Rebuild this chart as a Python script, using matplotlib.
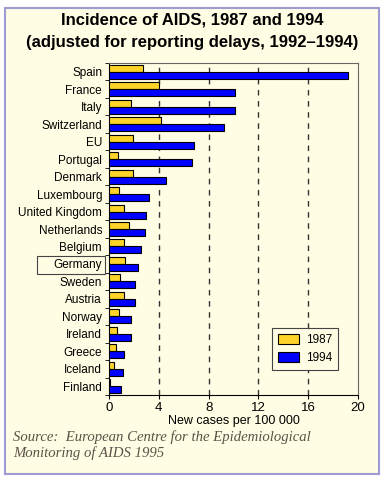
import matplotlib.pyplot as plt
import matplotlib.patches as mpatches
import numpy as np

plt.rcParams['font.family'] = ['Liberation Sans', 'DejaVu Sans']

# 数据
countries = ['Spain', 'France', 'Italy', 'Switzerland', 'EU', 'Portugal', 'Denmark',
             'Luxembourg', 'United Kingdom', 'Netherlands', 'Belgium', 'Germany',
             'Sweden', 'Austria', 'Norway', 'Ireland', 'Greece', 'Iceland', 'Finland']
v1987 = [2.7, 4.0, 1.8, 4.2, 1.9, 0.75, 1.95, 0.8, 1.2, 1.6, 1.2, 1.3, 0.9, 1.2, 0.8, 0.65, 0.6, 0.4, 0.05]
v1994 = [19.2, 10.1, 10.1, 9.2, 6.8, 6.7, 4.6, 3.2, 3.0, 2.9, 2.6, 2.3, 2.1, 2.1, 1.75, 1.75, 1.2, 1.1, 0.95]
xticks = [0, 4, 8, 12, 16, 20]

W, H = 385, 480
fig = plt.figure(figsize=(W / 100, H / 100), dpi=100)
fig.patch.set_facecolor('white')

# 外框背景
fig.patches.append(mpatches.Rectangle((5 / W, 1 - 474 / H), 374 / W, 466 / H,
                                      transform=fig.transFigure, facecolor='#fffde3',
                                      edgecolor='#9c9cd2', linewidth=1.5, zorder=-10))

ax = fig.add_axes([109 / W, 1 - 395 / H, 249 / W, 332 / H])
ax.set_facecolor('#fffde3')

y = np.arange(len(countries))
ax.barh(y - 0.2, v1987, height=0.4, color='#ffd42a', edgecolor='black', linewidth=0.8, label='1987', zorder=3)
ax.barh(y + 0.2, v1994, height=0.4, color='#0000ff', edgecolor='black', linewidth=0.8, label='1994', zorder=3)

ax.set_xlim(0, 20)
ax.set_ylim(len(countries) - 0.5, -0.5)
ax.set_xticks(xticks)
ax.tick_params(axis='x', labelsize=9.5, length=3, pad=2)
ax.set_yticks(y)
ax.set_yticklabels(countries, fontsize=8.5)
ax.tick_params(axis='y', length=0, pad=5)
ax.set_yticks(np.arange(len(countries) + 1) - 0.5, minor=True)
ax.tick_params(axis='y', which='minor', length=3)

for xv in xticks[1:-1]:
    ax.axvline(xv, color='#333333', linestyle=(0, (4, 4)), linewidth=1, zorder=1)

for s in ['top', 'right']:
    ax.spines[s].set_color('#666666')

ax.set_xlabel('New cases per 100 000', fontsize=9, labelpad=1)

# Germany 的框
fig.patches.append(mpatches.Rectangle((37 / W, 1 - 274 / H), 68 / W, 18 / H,
                                      transform=fig.transFigure, facecolor='none',
                                      edgecolor='#444444', linewidth=0.8))

leg = ax.legend(loc='lower right', bbox_to_anchor=(338 / W, 1 - 370 / H), bbox_transform=fig.transFigure,
                fontsize=8.5, fancybox=False, edgecolor='#444444', facecolor='#fffde3', framealpha=1,
                handlelength=1.8, handleheight=1.0, borderpad=0.5, labelspacing=0.5,
                handletextpad=0.6, borderaxespad=0)
leg.get_frame().set_linewidth(0.8)

fig.text(192 / W, 1 - 20 / H, 'Incidence of AIDS, 1987 and 1994', ha='center', va='center',
         fontsize=12, fontweight='bold')
fig.text(192 / W, 1 - 42 / H, '(adjusted for reporting delays, 1992\u20131994)', ha='center', va='center',
         fontsize=12, fontweight='bold')

fig.text(13 / W, 1 - 437 / H, 'Source:  European Centre for the Epidemiological', ha='left', va='center',
         fontsize=10.6, style='italic', family='Liberation Serif', color='#5a5248')
fig.text(13 / W, 1 - 453 / H, 'Monitoring of AIDS 1995', ha='left', va='center',
         fontsize=10.6, style='italic', family='Liberation Serif', color='#5a5248')

fig.savefig('out.png', dpi=100, facecolor=fig.get_facecolor())
